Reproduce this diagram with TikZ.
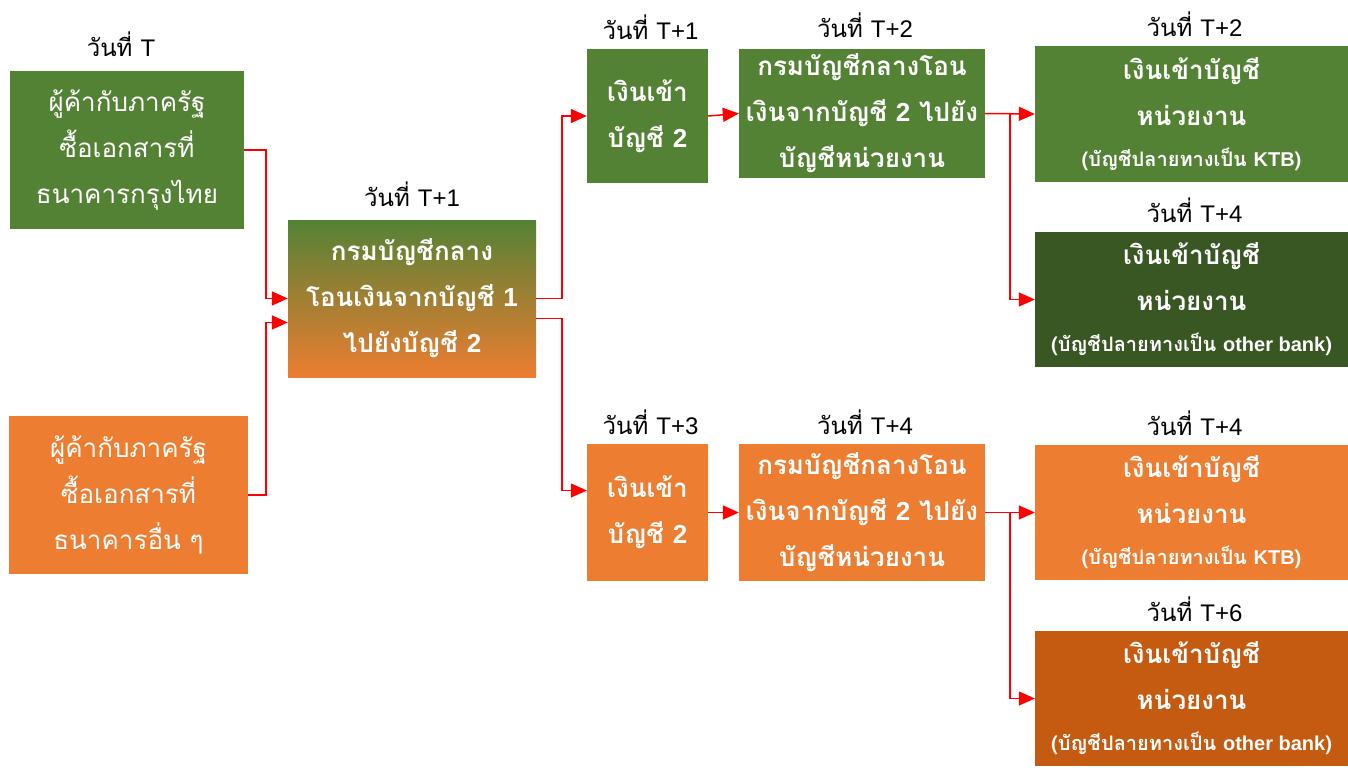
\documentclass[tikz,border=0pt]{standalone}
\usepackage{fontspec}
\setmainfont{Loma}[Script=Thai]
\newfontfamily\en{Liberation Sans}
\usetikzlibrary{positioning,arrows.meta,calc,shadings}
\definecolor{boxgreen}{HTML}{548235}
\definecolor{boxorange}{HTML}{ED7D31}
\definecolor{deepgreen}{HTML}{385723}
\definecolor{deeporange}{HTML}{C55A11}

\begin{document}
\begin{tikzpicture}[x=1pt,y=-1pt,
  box/.style={rectangle,inner sep=0pt,text=white,align=center,font=\bfseries\fontsize{26}{46}\selectfont},
  plainbox/.style={box,font=\fontsize{26}{46}\selectfont},
  size/.style 2 args={minimum width=#1pt,minimum height=#2pt},
  day/.style={font=\fontsize{24}{28}\selectfont,inner sep=1pt},
  link/.style={red,line width=1.5pt,-{Triangle[length=16pt,width=14pt]}}]
\useasboundingbox (0,0) rectangle (1348,770);

\node[plainbox,size={234}{158},fill=boxgreen] (A) at (127,150)
  {ผู้ค้ากับภาครัฐ\\ซื้อเอกสารที่\\ธนาคารกรุงไทย};
\node[plainbox,size={239}{158},fill=boxorange] (B) at (128.5,495)
  {ผู้ค้ากับภาครัฐ\\ซื้อเอกสารที่\\ธนาคารอื่น ๆ};
\node[box,size={248}{157},top color=boxgreen,bottom color=boxorange] (C) at (412,298.5)
  {กรมบัญชีกลาง\\โอนเงินจากบัญชี {\en 1}\\ไปยังบัญชี {\en 2}};

\node[box,size={121}{134},fill=boxgreen] (D) at (647.5,116)
  {เงินเข้า\\บัญชี {\en 2}};
\node[box,size={246}{129},fill=boxgreen] (E) at (862,113.5)
  {กรมบัญชีกลางโอน\\เงินจากบัญชี {\en 2} ไปยัง\\บัญชีหน่วยงาน};
\node[box,size={313}{136},fill=boxgreen] (F) at (1191.5,114)
  {เงินเข้าบัญชี\\หน่วยงาน\\[-5pt]{\fontsize{20}{24}\selectfont(บัญชีปลายทางเป็น {\en KTB})}};
\node[box,size={313}{135},fill=deepgreen] (G) at (1191.5,299.5)
  {เงินเข้าบัญชี\\หน่วยงาน\\[-5pt]{\fontsize{20}{24}\selectfont(บัญชีปลายทางเป็น {\en other bank})}};

\node[box,size={121}{137},fill=boxorange] (H) at (647.5,512.5)
  {เงินเข้า\\บัญชี {\en 2}};
\node[box,size={246}{137},fill=boxorange] (I) at (862,512.5)
  {กรมบัญชีกลางโอน\\เงินจากบัญชี {\en 2} ไปยัง\\บัญชีหน่วยงาน};
\node[box,size={313}{135},fill=boxorange] (J) at (1191.5,512.5)
  {เงินเข้าบัญชี\\หน่วยงาน\\[-5pt]{\fontsize{20}{24}\selectfont(บัญชีปลายทางเป็น {\en KTB})}};
\node[box,size={313}{135},fill=deeporange] (K) at (1191.5,698.5)
  {เงินเข้าบัญชี\\หน่วยงาน\\[-5pt]{\fontsize{20}{24}\selectfont(บัญชีปลายทางเป็น {\en other bank})}};

\node[day,above=13pt of A,xshift=-6pt] (dA) {วันที่ {\en T}};
\node[day,above=12pt of C] (dC) {วันที่ {\en T+1}};
\node[day,above=8pt of D,xshift=3pt] (dD) {วันที่ {\en T+1}};
\node[day,above=10pt of E,xshift=3pt] (dE) {วันที่ {\en T+2}};
\node[day,above=8pt of F,xshift=3pt] (dF) {วันที่ {\en T+2}};
\node[day,above=8pt of G,xshift=3pt] (dG) {วันที่ {\en T+4}};
\node[day,above=8pt of H,xshift=3pt] (dH) {วันที่ {\en T+3}};
\node[day,above=8pt of I,xshift=3pt] (dI) {วันที่ {\en T+4}};
\node[day,above=8pt of J,xshift=3pt] (dJ) {วันที่ {\en T+4}};
\node[day,above=8pt of K,xshift=3pt] (dK) {วันที่ {\en T+6}};

\draw[link] (A.east) -- ++(22,0) |- (C.west);
\draw[link] (B.east) -- ++(18,0) |- ($(C.west)+(0,24)$);
\draw[link] (C.east) -- ++(26,0) |- (D.west);
\draw[link] ($(C.east)+(0,20)$) -- ++(26,0) |- ($(H.west)+(0,-22)$);
\draw[link] (D.east) -- (E.west);
\draw[link] (H.east) -- (I.west);
\draw[link] (E.east) -- (F.west);
\draw[link] ($(E.east)+(25,0)$) |- (G.west);
\draw[link] (I.east) -- (J.west);
\draw[link] ($(I.east)+(25,0)$) |- (K.west);
\end{tikzpicture}
\end{document}
